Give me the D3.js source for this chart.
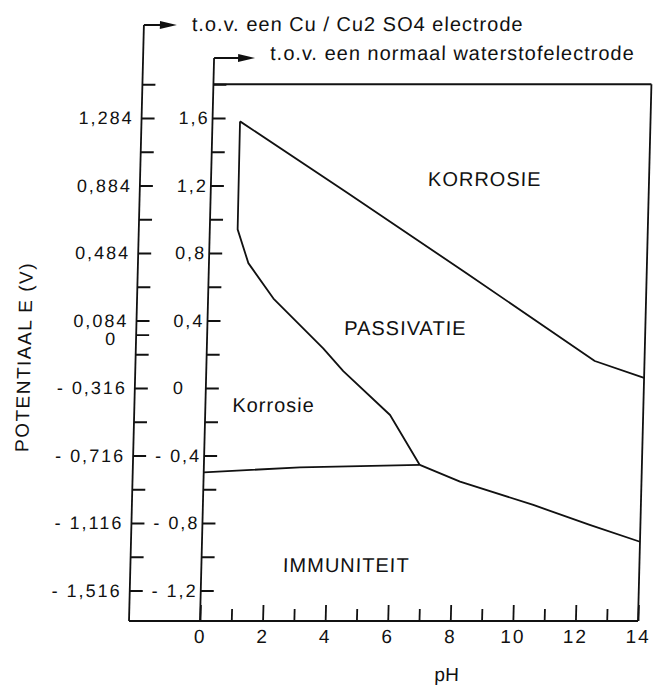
<html><head>
<script src="https://d3js.org/d3.v7.min.js"></script>
<style>
  body { margin: 0; background: #fff; }
  svg text { font-family: "Liberation Sans", Arial, sans-serif; fill: #111; }
</style>
</head>
<body>
<svg id="chart" width="655" height="685"></svg>
<script>
// lines of the diagram, [pH, E in V t.o.v. normaal waterstofelectrode]
const upperLine = [[0.88, 1.58], [4.34, 1.16], [8.24, 0.68], [12.41, 0.16], [14, 0.06]];
const leftLine = [[0.88, 1.58], [0.89, 0.94], [1.26, 0.74], [2.09, 0.53], [3.72, 0.235], [4.38, 0.10], [5.91, -0.16], [6.90, -0.456]];
const immunLine = [[0, -0.50], [3.07, -0.47], [6.90, -0.456]];
const lowerLine = [[6.90, -0.456], [8.2, -0.555], [10.56, -0.693], [12.38, -0.811], [14, -0.911]];

const phMajor = [0, 2, 4, 6, 8, 10, 12, 14];
const phMinor = [1, 3, 5, 7, 9, 11, 13];
const eMajor = [1.6, 1.2, 0.8, 0.4, 0, -0.4, -0.8, -1.2];
const eMinor = [1.8, 1.4, 1.0, 0.6, 0.2, -0.2, -0.6, -1.0];
const eLabels = ["1,6", "1,2", "0,8", "0,4", "0", "- 0,4", "- 0,8", "- 1,2"];
const cuLabels = ["1,284", "0,884", "0,484", "0,084", "- 0,316", "- 0,716", "- 1,116", "- 1,516"];
const cuZero = 0.316;   // 0 V t.o.v. Cu/CuSO4
const eTop = 1.8;

const regionNames = ["KORROSIE", "PASSIVATIE", "Korrosie", "IMMUNITEIT"];
const regionAt = [[8.75, 1.197], [6.33, 0.314], [0.86, -0.142], [4.63, -1.09]];

const svg = d3.select("#chart");
const ink = "#111";
const baseY = 621;
const skewK = 0.025; // the scan leans a little

const x = d3.scaleLinear().domain([0, 14]).range([200, 638]);
const y = d3.scaleLinear().domain([1.6, -1.2]).range([118, 590.5]);
const outerX = 129;

const g = svg.append("g")
  .attr("transform", `translate(${skewK * baseY},0) skewX(${-Math.atan(skewK) * 180 / Math.PI})`);

function seg(x1, y1, x2, y2) {
  g.append("line").attr("x1", x1).attr("y1", y1).attr("x2", x2).attr("y2", y2)
    .attr("stroke", ink).attr("stroke-width", 1.8);
}
function arrow(x0, yy, tip) {
  seg(x0, yy, tip - 10, yy);
  g.append("path").attr("d", `M${tip},${yy} L${tip - 17},${yy - 4} L${tip - 17},${yy + 4} Z`)
    .attr("fill", ink);
}

// frame
seg(outerX, 25, outerX, baseY);
seg(x(0), 58, x(0), baseY);
seg(outerX, baseY, x(14), baseY);
seg(x(14), y(eTop), x(14), baseY);
seg(x(0), y(eTop), x(14), y(eTop));
arrow(outerX, 25, 162);
arrow(x(0), 58, 241);

g.append("text").attr("x", 177).attr("y", 31).attr("font-size", 20).attr("letter-spacing", 1)
  .text("t.o.v. een Cu / Cu2 SO4 electrode");
g.append("text").attr("x", 256).attr("y", 60).attr("font-size", 20).attr("letter-spacing", 1)
  .text("t.o.v. een normaal waterstofelectrode");

function styleAxis(a, size) {
  a.select(".domain").remove();
  a.attr("font-family", null).attr("font-size", null);
  a.selectAll("line").attr("stroke", ink).attr("stroke-width", 1.8);
  a.selectAll("text").attr("font-size", size).attr("letter-spacing", 2).attr("fill", ink);
}

// inner axis (waterstof)
g.append("g").attr("transform", `translate(${x(0)},0)`)
  .call(d3.axisLeft(y).tickValues(eMajor).tickSize(-13).tickPadding(3).tickFormat((d, i) => eLabels[i]))
  .call(a => styleAxis(a, 18))
  .call(a => a.selectAll(".tick").filter(d => d === 0).select("text").attr("x", -21));
g.append("g").attr("transform", `translate(${x(0)},0)`)
  .call(d3.axisLeft(y).tickValues(eMinor).tickSize(-13).tickFormat(""))
  .call(a => styleAxis(a, 18));

// outer axis (Cu/CuSO4)
g.append("g").attr("transform", `translate(${outerX},0)`)
  .call(d3.axisLeft(y).tickValues(eMajor).tickSize(-13).tickPadding(8).tickFormat((d, i) => cuLabels[i]))
  .call(a => styleAxis(a, 18));
g.append("g").attr("transform", `translate(${outerX},0)`)
  .call(d3.axisLeft(y).tickValues(eMinor).tickSize(-13).tickFormat(""))
  .call(a => styleAxis(a, 18));
g.append("g").attr("transform", `translate(${outerX},0)`)
  .call(d3.axisLeft(y).tickValues([cuZero]).tickSize(-13).tickPadding(19).tickFormat(() => "0"))
  .call(a => styleAxis(a, 18))
  .call(a => a.selectAll("text").attr("dy", "0.55em"));

// pH axis
g.append("g").attr("transform", `translate(0,${baseY})`)
  .call(d3.axisBottom(x).tickValues(phMajor).tickSize(-16).tickPadding(9))
  .call(a => styleAxis(a, 19));
g.append("g").attr("transform", `translate(0,${baseY})`)
  .call(d3.axisBottom(x).tickValues(phMinor).tickSize(-12).tickFormat(""))
  .call(a => styleAxis(a, 19));

g.append("text").attr("x", 448).attr("y", 681).attr("text-anchor", "middle")
  .attr("font-size", 19).text("pH");
g.append("text").attr("transform", "translate(24,357) rotate(-90)")
  .attr("text-anchor", "middle").attr("font-size", 19).attr("letter-spacing", 1.5)
  .text("POTENTIAAL E (V)");

// boundary lines
const line = d3.line().x(d => x(d[0])).y(d => y(d[1]));
[upperLine, leftLine, immunLine, lowerLine].forEach(pts => {
  g.append("path").attr("d", line(pts)).attr("fill", "none")
    .attr("stroke", ink).attr("stroke-width", 1.8).attr("stroke-linejoin", "round");
});

regionNames.forEach((name, i) => {
  g.append("text").attr("x", x(regionAt[i][0])).attr("y", y(regionAt[i][1]))
    .attr("text-anchor", name === "Korrosie" ? "start" : "middle")
    .attr("font-size", 20).attr("letter-spacing", 1).text(name);
});
</script>
</body>
</html>
